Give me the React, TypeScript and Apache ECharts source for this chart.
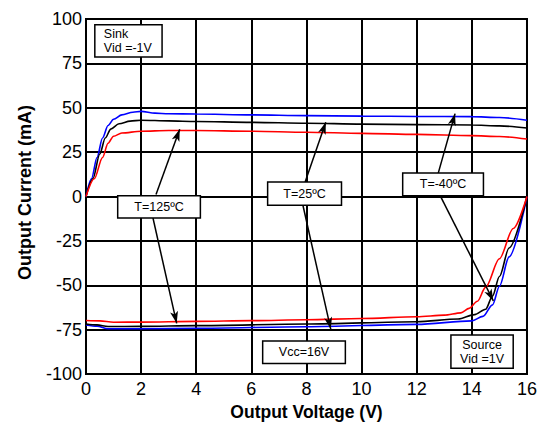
import React, { useEffect, useRef } from "react";
import * as echarts from "echarts";

// Sink (positive) output current vs output voltage
const sinkM40: [number, number][] = [
  [0, 0], [0.2, 10], [0.4, 22], [0.6, 33], [0.8, 40], [1.0, 43.5], [1.3, 46], [1.7, 47.5], [2, 48],
  [2.5, 47], [3, 46.6], [4, 46.5], [6, 46], [8, 45.6], [10, 45.3], [12, 45.1], [14, 45], [15, 44.5], [16, 43],
];
const sink25: [number, number][] = [
  [0, 0], [0.25, 10], [0.5, 24], [0.7, 33], [0.9, 38], [1.2, 41], [1.6, 42.5], [2, 43],
  [3, 42.6], [4, 42.3], [6, 41.8], [8, 41.3], [10, 40.8], [12, 40.5], [14, 40.3], [15, 39.8], [16, 38.6],
];
const sink125: [number, number][] = [
  [0, 0], [0.3, 10], [0.6, 22], [0.8, 30], [1.0, 34], [1.3, 35.8], [2, 36.8], [3, 37.2],
  [4, 37.2], [6, 36.8], [8, 36.2], [10, 35.6], [12, 35], [14, 34.3], [15, 33.8], [16, 32.4],
];
// Source (negative) output current vs output voltage
const sourceM40: [number, number][] = [
  [0, -72.3], [0.4, -73], [0.8, -74.5], [2, -74.5], [4, -74.2], [8, -73.3], [12, -72], [14, -70],
  [14.4, -67.5], [14.75, -61], [15, -50.5], [15.35, -34], [16, 0],
];
const source25: [number, number][] = [
  [0, -71.8], [0.4, -72.3], [0.8, -73.2], [2, -73.1], [4, -72.7], [8, -71.8], [12, -70.5], [13.5, -69],
  [14.1, -66.5], [14.5, -63.5], [14.75, -56], [15, -45], [15.35, -29], [16, 0],
];
const source125: [number, number][] = [
  [0, -69.8], [0.5, -70], [1, -70.8], [2, -70.7], [4, -70.3], [6, -69.9], [8, -69.4], [10, -68.7],
  [12, -67.7], [13, -66.8], [13.6, -65.5], [13.9, -63], [14.2, -59], [14.5, -51], [15, -35], [15.5, -18], [16, 0],
];

const xTitle = "Output Voltage (V)";
const yTitle = "Output Current (mA)";

// annotation boxes in data units: [x0, yTop, x1, yBottom]
const boxes: { lines: string[]; rect: [number, number, number, number]; align: "left" | "center" }[] = [
  { lines: ["Sink", "Vid =-1V"], rect: [0.32, 96.7, 2.76, 78.6], align: "left" },
  { lines: ["T=125ºC"], rect: [1.15, 0.5, 4.15, -12.1], align: "center" },
  { lines: ["T=25ºC"], rect: [6.59, 8.2, 9.27, -4.9], align: "center" },
  { lines: ["T=-40ºC"], rect: [11.49, 13.2, 14.42, 0.5], align: "center" },
  { lines: ["Vcc=16V"], rect: [6.41, -81.3, 9.41, -94], align: "center" },
  { lines: ["Source", "Vid =1V"], rect: [13.24, -78, 15.5, -96.7], align: "center" },
];
// arrows [from, to] in data units
const arrows: [[number, number], [number, number]][] = [
  [[2.54, 1.1], [3.4, 37.9]],
  [[2.43, -12.1], [3.29, -71.4]],
  [[7.95, 8.2], [8.7, 41.8]],
  [[7.87, -4.9], [8.88, -74.7]],
  [[12.78, 13.2], [13.39, 46.7]],
  [[12.85, 0.5], [14.78, -58.8]],
];

const FONT = "Liberation Sans, Arial, sans-serif";

export default function App() {
  const ref = useRef<HTMLDivElement>(null);
  useEffect(() => {
    if (!ref.current) return;
    const chart = echarts.init(ref.current, undefined, { renderer: "svg" });
    const line = (name: string, data: [number, number][], color: string) => ({
      name,
      type: "line",
      data,
      showSymbol: false,
      smooth: 0.3,
      smoothMonotone: "x",
      lineStyle: { color, width: 1.6 },
      z: 3,
    });
    chart.setOption({
      animation: false,
      backgroundColor: "#fff",
      grid: { left: 76, right: 9, top: 11, bottom: 43, show: true, borderColor: "#000", borderWidth: 2 },
      xAxis: {
        type: "value",
        min: 0,
        max: 16,
        interval: 2,
        name: xTitle,
        nameLocation: "middle",
        nameGap: 28,
        nameTextStyle: { fontFamily: FONT, fontSize: 17.5, fontWeight: "bold", color: "#000" },
        axisLine: { lineStyle: { color: "#000", width: 2 } },
        axisTick: { show: false },
        axisLabel: { fontFamily: FONT, fontSize: 18, color: "#000", margin: 6 },
        splitLine: { show: true, lineStyle: { color: "#000", width: 2 } },
      },
      yAxis: {
        type: "value",
        min: -100,
        max: 100,
        interval: 25,
        name: yTitle,
        nameLocation: "middle",
        nameGap: 52,
        nameTextStyle: { fontFamily: FONT, fontSize: 18, fontWeight: "bold", color: "#000", padding: [0, 0, 0, 8] },
        axisLine: { lineStyle: { color: "#000", width: 2 } },
        axisTick: { show: false },
        axisLabel: { fontFamily: FONT, fontSize: 18, color: "#000", margin: 4, padding: [0, 0, 7, 0] },
        splitLine: { show: true, lineStyle: { color: "#000", width: 2 } },
      },
      series: [
        line("Sink T=-40ºC", sinkM40, "#0000ff"),
        line("Sink T=25ºC", sink25, "#000000"),
        line("Sink T=125ºC", sink125, "#ff0000"),
        line("Source T=-40ºC", sourceM40, "#0000ff"),
        line("Source T=25ºC", source25, "#000000"),
        line("Source T=125ºC", source125, "#ff0000"),
        {
          type: "line",
          data: [],
          z: 4,
          markLine: {
            silent: true,
            symbol: ["none", "arrow"],
            symbolSize: [6, 12],
            label: { show: false },
            lineStyle: { color: "#000", width: 1.5, type: "solid" },
            data: arrows.map(([a, b]) => [{ coord: a }, { coord: b }]),
          },
        },
      ],
    });
    const toPx = (p: [number, number]) => chart.convertToPixel({ gridIndex: 0 }, p) as number[];
    const graphic: any[] = [];
    boxes.forEach((b) => {
      const [x0, y0] = toPx([b.rect[0], b.rect[1]]);
      const [x1, y1] = toPx([b.rect[2], b.rect[3]]);
      const w = x1 - x0;
      const h = y1 - y0;
      graphic.push({
        type: "rect",
        shape: { x: x0, y: y0, width: w, height: h },
        style: { fill: "#fff", stroke: "#000", lineWidth: 1.5 },
        z: 10,
      });
      graphic.push({
        type: "text",
        x: b.align === "left" ? x0 + 9 : x0 + w / 2,
        y: y0 + h / 2,
        style: {
          text: b.lines.join("\n"),
          fontFamily: FONT,
          fontSize: 12.5,
          fill: "#000",
          align: b.align,
          verticalAlign: "middle",
          lineHeight: 14,
        },
        z: 11,
      });
    });
    chart.setOption({ graphic });
    return () => chart.dispose();
  }, []);
  return <div ref={ref} style={{ width: 532, height: 418 }} />;
}
